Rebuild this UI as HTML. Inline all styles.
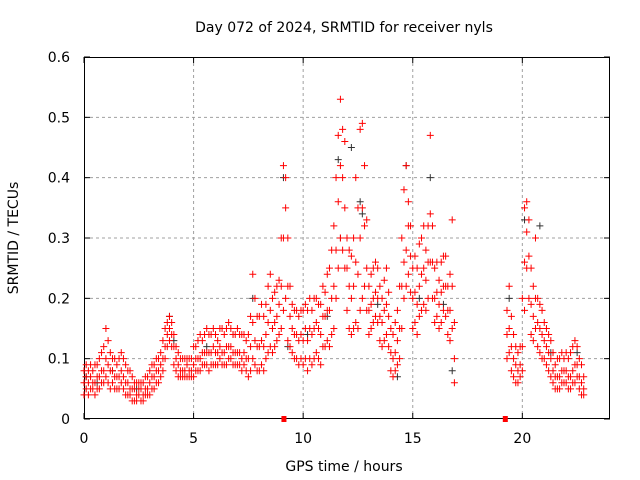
<!DOCTYPE html>
<html><head><meta charset="utf-8">
<style>
html,body{margin:0;padding:0;background:#fff;}
svg{display:block;font-family:"DejaVu Sans","Liberation Sans",sans-serif;}
</style></head>
<body>
<svg id="chart" width="640" height="480" viewBox="0 0 640 480">
<rect x="0" y="0" width="640" height="480" fill="#fff"/>
<text x="344" y="32" font-size="14" text-anchor="middle" fill="#000">Day 072 of 2024, SRMTID for receiver nyls</text>
<text x="344" y="471" font-size="14" text-anchor="middle" fill="#000">GPS time / hours</text>
<text x="18" y="238" font-size="14" text-anchor="middle" fill="#000" transform="rotate(-90 18 238)">SRMTID / TECUs</text>
<g id="grid"></g>
<g id="axes"></g>
<g id="marks"></g>
</svg>
<script>
const xTicks = [0,5,10,15,20];
const yTicks = [0,0.1,0.2,0.3,0.4,0.5,0.6];
const yTickLabels = ["0","0.1","0.2","0.3","0.4","0.5","0.6"];
const seg1Start = 0.0, seg2Start = 19.3, stepHours = 0.1;
const seg1Low = [.04,.05,.04,.05,.05,.04,.05,.05,.06,.06, .07,.06,.05,.06,.05,.05,.05,.06,.05,.04, .04,.04,.03,.03,.03,.04,.03,.03,.04,.04, .04,.05,.05,.06,.06,.07,.08,.10,.12,.13, .12,.09,.08,.07,.07,.07,.07,.07,.07,.07, .07,.08,.08,.08,.09,.09,.09,.08,.09,.09, .09,.09,.10,.09,.09,.09,.10,.10,.09,.09, .09,.09,.08,.09,.08,.07,.08,.10,.09,.08, .08,.09,.08,.10,.11,.12,.11,.12,.13,.14, .15,.18,.20,.13,.12,.11,.10,.10,.09,.10, .09,.10,.08,.10,.09,.10,.11,.10,.09,.12, .12,.13,.12,.14,.15,.20,.25,.30,.28,.25, .18,.15,.14,.15,.16,.15,.18,.20,.22,.18, .14,.15,.16,.17,.16,.13,.12,.13,.14,.12, .08,.07,.08,.09,.10,.15,.20,.22,.24,.21, .15,.16,.14,.17,.18,.19,.18,.20,.26,.20, .16,.17,.15,.16,.18,.17,.14,.13,.15,.06];
const seg1Mid = [.06,.07,.06,.07,.06,.06,.07,.07,.08,.08, .10,.09,.08,.08,.07,.07,.07,.08,.07,.06, .06,.05,.05,.05,.04,.05,.05,.04,.05,.05, .06,.07,.07,.08,.08,.09,.10,.12,.14,.15, .14,.12,.10,.09,.08,.08,.08,.09,.08,.08, .09,.10,.10,.10,.11,.11,.11,.11,.11,.12, .11,.11,.12,.11,.11,.12,.12,.12,.11,.11, .11,.11,.10,.11,.10,.10,.12,.16,.13,.12, .12,.13,.12,.14,.16,.18,.15,.16,.17,.19, .22,.30,.35,.22,.17,.15,.14,.14,.13,.14, .13,.15,.13,.15,.14,.15,.16,.15,.14,.17, .17,.18,.18,.20,.22,.28,.36,.42,.40,.35, .25,.22,.20,.22,.26,.24,.30,.35,.32,.25, .18,.19,.20,.21,.20,.17,.16,.18,.19,.17, .11,.10,.11,.13,.15,.22,.26,.28,.32,.27, .20,.21,.19,.22,.24,.25,.23,.26,.34,.26, .20,.21,.19,.21,.22,.22,.18,.18,.22,.10];
const seg1High = [.08,.09,.08,.09,.08,.09,.09,.10,.11,.12, .15,.13,.11,.10,.10,.09,.10,.11,.10,.09, .08,.08,.07,.06,.06,.06,.06,.06,.07,.07, .08,.09,.09,.10,.10,.11,.13,.15,.16,.17, .16,.14,.12,.11,.10,.10,.10,.10,.10,.10, .12,.12,.13,.14,.13,.14,.15,.14,.14,.15, .14,.13,.15,.15,.14,.15,.16,.15,.14,.14, .15,.14,.14,.14,.13,.14,.17,.24,.20,.17, .17,.19,.17,.19,.22,.24,.20,.21,.22,.23, .30,.42,.40,.30,.22,.19,.18,.18,.17,.18, .18,.19,.18,.20,.18,.20,.20,.19,.19,.22, .21,.24,.25,.28,.32,.40,.47,.53,.48,.46, .30,.28,.27,.30,.40,.35,.48,.49,.42,.33, .22,.24,.25,.26,.25,.22,.20,.23,.25,.21, .15,.14,.16,.18,.22,.30,.38,.42,.36,.32, .25,.27,.25,.29,.30,.32,.28,.32,.47,.32, .25,.26,.23,.26,.27,.27,.22,.24,.33,.16];
const seg2Low = [.10,.11,.08,.07,.06,.06,.07, .08,.18,.25,.20,.14,.13,.15,.12,.11,.10, .10,.09,.08,.07,.06,.05,.05,.05,.06,.06, .06,.05,.05,.06,.06,.07,.05,.04,.04];
const seg2Mid = [.14,.15,.12,.10,.09,.08,.09, .12,.26,.31,.27,.19,.17,.20,.16,.15,.14, .13,.12,.11,.10,.08,.07,.07,.07,.08,.08, .08,.07,.07,.08,.09,.09,.07,.06,.05];
const seg2High = [.18,.22,.17,.14,.12,.11,.12, .20,.35,.36,.33,.25,.22,.30,.20,.19,.18, .16,.15,.14,.13,.11,.09,.10,.10,.11,.10, .11,.10,.11,.12,.13,.12,.10,.09,.07];
const grayHours = [0.1,0.6,1.3,2.4,3.9,4.1,5.6,6.8,7.7,8.6,9.1,9.3,10.2,11.1,11.6,11.7,12.2,12.6,12.7,13.4,14.3,14.7,15.3,15.8,16.4,16.8,19.4,20.1,20.8,21.3,22.5];
const grayValues = [0.07,0.06,0.08,0.05,0.17,0.13,0.12,0.14,0.20,0.15,0.40,0.12,0.14,0.17,0.43,0.30,0.45,0.36,0.34,0.19,0.07,0.42,0.20,0.40,0.19,0.08,0.20,0.33,0.32,0.11,0.11];
const gapMarkerHours = [9.1,19.2];

const L=84,R=610,T=57,B=419,XMAX=24,YMAX=0.6;
const xs = h => L + h/XMAX*(R-L);
const ys = v => B - v/YMAX*(B-T);
const NS="http://www.w3.org/2000/svg";
const grid=document.getElementById('grid'), axes=document.getElementById('axes'), marks=document.getElementById('marks');
function mk(tag, attrs, parent){const e=document.createElementNS(NS,tag);for(const k in attrs)e.setAttribute(k,attrs[k]);parent.appendChild(e);return e;}

yTicks.forEach((v,i)=>{
  const y=ys(v);
  if(v>0 && v<YMAX){const g=mk('line',{x1:L,x2:R,y1:y,y2:y,stroke:'#a0a0a0','stroke-dasharray':'3,3'},grid);
  
  }
  mk('line',{x1:L,x2:L+6,y1:y,y2:y,stroke:'#000'},axes);
  mk('line',{x1:R,x2:R-6,y1:y,y2:y,stroke:'#000'},axes);
  const t=mk('text',{x:L-14,y:y+5,'font-size':14,'text-anchor':'end'},axes);
  t.textContent=yTickLabels[i];
  
  
});
xTicks.forEach(h=>{
  const x=xs(h);
  if(h>0){const g=mk('line',{x1:x,x2:x,y1:T,y2:B,stroke:'#a0a0a0','stroke-dasharray':'3,3'},grid);
  
  }
  mk('line',{x1:x,x2:x,y1:B,y2:B-6,stroke:'#000'},axes);
  mk('line',{x1:x,x2:x,y1:T,y2:T+6,stroke:'#000'},axes);
  const t=mk('text',{x:x,y:B+24,'font-size':14,'text-anchor':'middle'},axes);
  t.textContent=String(h);
  
  
});
const frame=mk('rect',{x:L+0.5,y:T+0.5,width:R-L-1,height:B-T-1,fill:'none',stroke:'#000'},axes);



function plus(x,y){return 'M'+(x-3.5)+' '+y+'h7M'+x+' '+(y-3.5)+'v7';}
let gd='';
grayHours.forEach((h,i)=>{gd+=plus(xs(h),ys(grayValues[i]));});
const gp=mk('path',{d:gd,stroke:'#333',fill:'none','stroke-width':1},marks);



let rd='';
[[seg1Start,seg1Low,seg1Mid,seg1High],[seg2Start,seg2Low,seg2Mid,seg2High]].forEach(s=>{
  const [st,lo,mi,hi]=s;
  for(let i=0;i<lo.length;i++){
    const x=xs(st+i*stepHours);
    rd+=plus(x,ys(lo[i]))+plus(x,ys(mi[i]))+plus(x,ys(hi[i]));
  }
});
const rp=mk('path',{d:rd,stroke:'#ff0000',fill:'none','stroke-width':1},marks);



gapMarkerHours.forEach(h=>{
  const r=mk('rect',{x:xs(h)-2,y:B-3,width:5,height:6,fill:'#ff0000'},marks);
  
  
});
</script>
</body></html>
